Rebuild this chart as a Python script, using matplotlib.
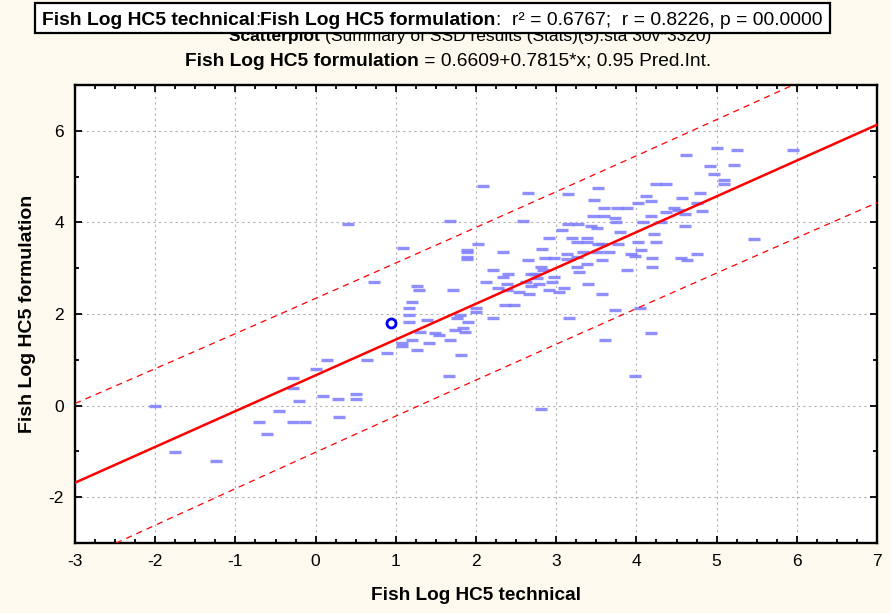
import numpy as np
import matplotlib
matplotlib.use("Agg")
import matplotlib.pyplot as plt
from matplotlib.patches import Rectangle
from matplotlib.ticker import MultipleLocator

# font: narrow sans like the original, fall back if missing
FONT = ['Liberation Sans Narrow', 'Liberation Sans', 'DejaVu Sans']
plt.rcParams['font.family'] = FONT
plt.rcParams['axes.unicode_minus'] = False

# --- data ---
tech = [-2.00, -1.75, -1.24, -0.71, -0.61, -0.46, -0.28, -0.28, -0.21, -0.28,
        -0.13, 0.00, 0.14, 0.09, 0.28, 0.29, 0.50, 0.50, 0.64, 0.40,
        0.73, 0.89, 1.09, 1.26, 1.29, 1.20, 1.16, 1.16, 1.16, 1.08,
        1.08, 1.20, 1.26, 1.30, 1.39, 1.41, 1.49, 1.54, 1.71, 1.68,
        1.66, 1.74, 1.76, 1.84, 1.86, 1.80, 1.81, 1.90, 1.89, 1.89,
        1.89, 1.89, 2.00, 2.00, 2.12, 2.21, 2.21, 2.34, 2.40, 2.27,
        2.39, 2.39, 2.36, 2.48, 2.34, 2.53, 2.66, 2.65, 2.62, 2.69,
        2.74, 2.68, 2.76, 2.79, 2.81, 2.84, 2.81, 2.86, 2.97, 2.97,
        2.95, 2.91, 3.03, 3.10, 3.16, 3.13, 3.13, 3.26, 3.28, 3.38,
        3.40, 3.33, 3.26, 3.57, 3.51, 3.57, 3.61, 3.73, 3.88, 3.93,
        3.98, 3.98, 4.04, 4.18, 4.20, 4.20, 5.47, 4.56, 4.63, 4.75,
        4.06, 3.66, 3.57, 3.77, 4.02, 4.25, 5.00, 5.25, 4.62, 4.92,
        5.22, 4.97, 5.09, 5.09, 4.25, 4.37, 4.12, 4.18, 4.79, 4.57,
        4.02, 4.75, 4.47, 4.52, 4.37, 4.82, 4.60, 3.60, 3.76, 3.88,
        3.60, 3.73, 3.75, 4.18, 4.08, 4.31, 4.60, 3.80, 4.22, 5.95,
        2.09, 2.65, 3.15, 3.52, 3.47, 1.68, 2.59, 3.15, 3.27, 3.43,
        3.51, 3.46, 3.07, 2.91, 3.20, 3.38, 3.26, 3.38, 3.52, 2.03,
        2.82]
form = [0.00, -1.01, -1.22, -0.35, -0.61, -0.11, 0.61, 0.39, 0.11, -0.35,
        -0.35, 0.81, 1.00, 0.20, 0.15, -0.24, 0.26, 0.15, 1.00, 3.96,
        2.70, 1.15, 3.44, 2.61, 2.53, 2.27, 2.14, 1.98, 1.83, 1.37,
        1.31, 1.44, 1.22, 1.61, 1.87, 1.37, 1.59, 1.55, 2.53, 1.44,
        0.65, 1.66, 1.92, 1.70, 1.61, 1.98, 1.11, 1.83, 3.40, 3.35,
        3.24, 3.19, 2.14, 2.05, 2.70, 2.96, 1.92, 2.81, 2.88, 2.57,
        2.66, 2.53, 2.20, 2.20, 3.36, 2.48, 2.44, 3.18, 2.70, 2.61,
        2.88, 2.88, 2.79, 2.66, 3.03, 2.96, -0.07, 3.22, 3.22, 2.81,
        2.70, 2.53, 2.48, 2.57, 1.92, 3.31, 3.20, 3.03, 2.92, 3.09,
        2.66, 3.36, 3.25, 3.18, 3.36, 2.44, 1.44, 2.09, 2.96, 3.31,
        3.27, 0.65, 2.14, 1.59, 3.22, 3.03, 3.64, 3.22, 3.18, 3.31,
        3.40, 3.36, 3.53, 3.53, 3.57, 3.57, 5.62, 5.58, 5.47, 5.23,
        5.25, 5.05, 4.92, 4.84, 4.84, 4.84, 4.58, 4.47, 4.64, 4.53,
        4.42, 4.42, 4.31, 4.27, 4.23, 4.25, 4.18, 4.31, 4.31, 4.31,
        4.14, 4.10, 4.01, 4.14, 4.01, 4.01, 3.92, 3.79, 3.75, 5.58,
        4.79, 4.64, 4.62, 4.75, 4.49, 4.03, 4.03, 3.97, 3.97, 3.92,
        3.88, 4.14, 3.83, 3.66, 3.66, 3.66, 3.57, 3.57, 3.53, 3.53,
        3.42]

# highlighted case
hi_tech = [0.94]
hi_form = [1.81]

# regression from the chart header
intercept = 0.6609
slope = 0.7815
t_val = 1.97

tech = np.array(tech)
form = np.array(form)

# prediction interval around the stated line
n = len(tech)
resid = form - (intercept + slope * tech)
s = np.sqrt(np.sum(resid ** 2) / (n - 2))
xbar = tech.mean()
sxx = np.sum((tech - xbar) ** 2)

xx = np.linspace(-3, 7, 200)
yy = intercept + slope * xx
half = t_val * s * np.sqrt(1 + 1 / n + (xx - xbar) ** 2 / sxx)

W, H = 891, 613
fig = plt.figure(figsize=(W / 100, H / 100), dpi=100, facecolor='#fdf9ee')
ax = fig.add_axes([75 / W, 1 - 543 / H, (877 - 75) / W, (543 - 85) / H])
ax.set_facecolor('white')

ax.plot(tech, form, linestyle='none', marker='_', markersize=8.5,
        markeredgewidth=2.4, color='#7b7bff', alpha=0.85, zorder=3)
ax.plot(hi_tech, hi_form, linestyle='none', marker='o', markersize=6.5,
        markerfacecolor='none', markeredgecolor='#0000ee', markeredgewidth=2, zorder=4)
ax.plot(xx, yy, color='#ff0000', lw=1.8, zorder=5)
ax.plot(xx, yy + half, color='#ff0000', lw=0.9, dashes=(5, 4), zorder=5)
ax.plot(xx, yy - half, color='#ff0000', lw=0.9, dashes=(5, 4), zorder=5)

ax.set_xlim(-3, 7)
ax.set_ylim(-3, 7)
ax.xaxis.set_major_locator(MultipleLocator(1))
ax.xaxis.set_minor_locator(MultipleLocator(0.25))
ax.yaxis.set_major_locator(MultipleLocator(2))
ax.yaxis.set_minor_locator(MultipleLocator(1))
ax.set_yticks([-2, 0, 2, 4, 6])
ax.tick_params(which='both', direction='in', top=True, right=True, width=1.3, labelsize=12.5)
ax.tick_params(which='major', length=5, pad=8)
ax.tick_params(which='minor', length=3)
ax.grid(True, which='major', color='#b0b0b0', linestyle=(0, (2, 3)), lw=0.8)
for sp in ax.spines.values():
    sp.set_linewidth(1.7)

ax.set_xlabel('Fish Log HC5 technical', fontweight='bold', fontsize=13.7, labelpad=13)
ax.set_ylabel('Fish Log HC5 formulation', fontweight='bold', fontsize=14, labelpad=9)


def mixed_line(parts, xc, yb, size, zorder=3):
    # draw bold / normal pieces side by side, centred on xc (pixels)
    renderer = fig.canvas.get_renderer()
    items = []
    for txt, wt in parts:
        t = fig.text(0, 0, txt, fontweight=wt, fontsize=size, va='baseline',
                     ha='left', zorder=zorder)
        items.append(t)
    widths = [t.get_window_extent(renderer).width for t in items]
    x = xc - sum(widths) / 2
    for t, w in zip(items, widths):
        t.set_position((x / W, 1 - yb / H))
        x += w


# partly hidden line behind the header box
mixed_line([('Scatterplot ', 'bold'),
            ('(Summary of SSD results (Stats)(5).sta 30v*3320)', 'normal')], 470, 41, 12.5, zorder=1)

box = Rectangle((35 / W, 1 - 33 / H), (830 - 35) / W, 30 / H, transform=fig.transFigure,
                facecolor='white', edgecolor='black', lw=1.6, zorder=2)
fig.patches.append(box)

mixed_line([('Fish Log HC5 technical', 'bold'), (':', 'normal'),
            ('Fish Log HC5 formulation', 'bold'),
            (':  r² = 0.6767;  r = 0.8226, p = 00.0000', 'normal')], 432, 25, 13.9)
mixed_line([('Fish Log HC5 formulation', 'bold'),
            (' = 0.6609+0.7815*x; 0.95 Pred.Int.', 'normal')], 448, 66, 13.8)

fig.savefig('out.png', dpi=100, facecolor=fig.get_facecolor())
